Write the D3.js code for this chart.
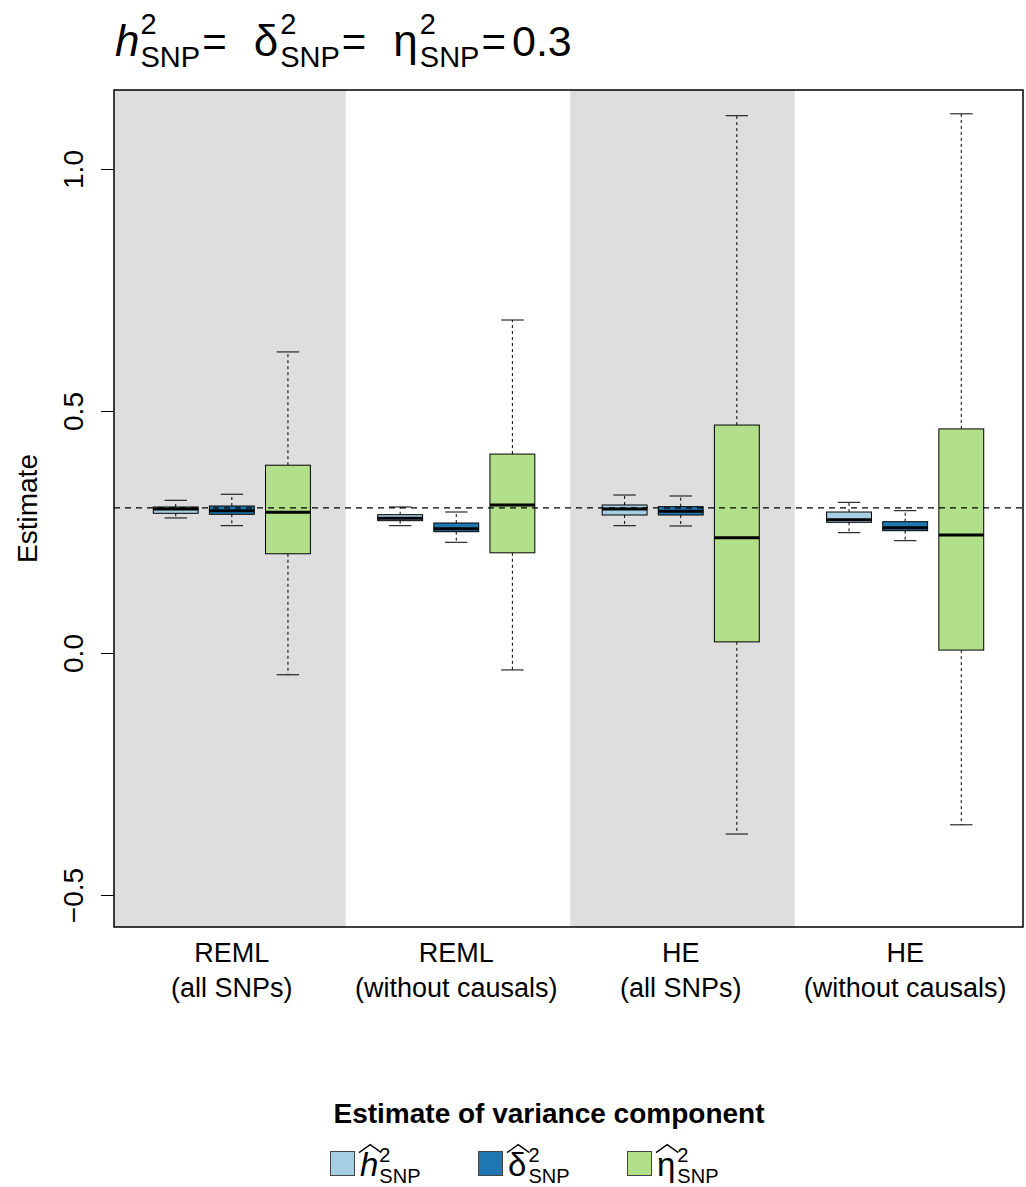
<!DOCTYPE html>
<html>
<head>
<meta charset="utf-8">
<script src="https://cdn.jsdelivr.net/npm/d3@7"></script>
<style>
  body { margin: 0; background: #fff; }
  text { font-family: "Liberation Sans", Arial, Helvetica, sans-serif; fill: #000; white-space: pre; }
</style>
</head>
<body>
<svg id="chart" width="1026" height="1187"></svg>
<script>
'use strict';

// groups on the x axis (two label lines each)
var groupLines = [
  ["REML", "(all SNPs)"],
  ["REML", "(without causals)"],
  ["HE", "(all SNPs)"],
  ["HE", "(without causals)"]
];

// box stats per group: [lower whisker, Q1, median, Q3, upper whisker]
var h2Boxes = [
  [0.279, 0.2886, 0.2975, 0.3017, 0.3155],
  [0.263, 0.2734, 0.2783, 0.2858, 0.3017],
  [0.263, 0.2851, 0.2975, 0.3058, 0.3264],
  [0.2486, 0.270, 0.2754, 0.2913, 0.3113]
];
var delta2Boxes = [
  [0.263, 0.2866, 0.294, 0.3037, 0.328],
  [0.2287, 0.2506, 0.2568, 0.2686, 0.2913],
  [0.2624, 0.2851, 0.2927, 0.3023, 0.3244],
  [0.232, 0.2527, 0.2589, 0.2713, 0.294]
];
var eta2Boxes = [
  [-0.045, 0.205, 0.291, 0.388, 0.622],
  [-0.035, 0.207, 0.306, 0.411, 0.688],
  [-0.374, 0.023, 0.238, 0.471, 1.110],
  [-0.355, 0.006, 0.244, 0.463, 1.114]
];

var trueValue = 0.3;
var yTicks = [-0.5, 0, 0.5, 1.0];
var seriesColors = ["#A6CEE3", "#1F78B4", "#B2DF8A"];
var seriesBases = ["h", "\u03B4", "\u03B7"];
var seriesItalic = [true, false, false];

var allSeries = [h2Boxes, delta2Boxes, eta2Boxes];

var svg = d3.select('#chart');
var plotL = 114, plotR = 1023, plotT = 90, plotB = 927;

// y scale: 0 -> 653, 1 -> 169
var y = d3.scaleLinear().domain([-0.5661, 1.1632]).range([plotB, plotT]);
// x in box units, R style xlim with 4% extension
var x = d3.scaleLinear().domain([-0.1, 16.1]).range([plotL, plotR]);

svg.append('rect').attr('width', 1026).attr('height', 1187).attr('fill', '#fff');

// shaded bands for groups 1 and 3
[0, 2].forEach(function(g) {
  var x0 = g === 0 ? plotL : x(g * 4 + 0.03), x1 = x(g * 4 + 4.03);
  svg.append('rect')
    .attr('x', x0).attr('y', plotT)
    .attr('width', x1 - x0).attr('height', plotB - plotT)
    .attr('fill', '#DEDEDE');
});

// boxes
var boxW = 0.8, stapleW = 0.4;
allSeries.forEach(function(series, s) {
  series.forEach(function(st, g) {
    var pos = g * 4 + s + 1;
    var cx = x(pos);
    var bx0 = x(pos - boxW / 2), bx1 = x(pos + boxW / 2);
    var sx0 = x(pos - stapleW / 2), sx1 = x(pos + stapleW / 2);
    var bg = svg.append('g');

    // whiskers
    bg.append('line').attr('x1', cx).attr('x2', cx)
      .attr('y1', y(st[3])).attr('y2', y(st[4]))
      .attr('stroke', '#000').attr('stroke-width', 1).attr('stroke-dasharray', '3,3');
    bg.append('line').attr('x1', cx).attr('x2', cx)
      .attr('y1', y(st[1])).attr('y2', y(st[0]))
      .attr('stroke', '#000').attr('stroke-width', 1).attr('stroke-dasharray', '3,3');
    // staples
    [st[0], st[4]].forEach(function(v) {
      bg.append('line').attr('x1', sx0).attr('x2', sx1)
        .attr('y1', y(v)).attr('y2', y(v))
        .attr('stroke', '#000').attr('stroke-width', 1);
    });
    // box
    bg.append('rect')
      .attr('x', bx0).attr('y', y(st[3]))
      .attr('width', bx1 - bx0).attr('height', y(st[1]) - y(st[3]))
      .attr('fill', seriesColors[s]).attr('stroke', '#000').attr('stroke-width', 1);
    // median
    bg.append('line').attr('x1', bx0).attr('x2', bx1)
      .attr('y1', y(st[2])).attr('y2', y(st[2]))
      .attr('stroke', '#000').attr('stroke-width', 3);
  });
});

// reference line at the true value
svg.append('line')
  .attr('x1', plotL).attr('x2', plotR)
  .attr('y1', y(trueValue)).attr('y2', y(trueValue))
  .attr('stroke', '#000').attr('stroke-width', 1.3).attr('stroke-dasharray', '6,5');

// frame
svg.append('rect')
  .attr('x', plotL).attr('y', plotT)
  .attr('width', plotR - plotL).attr('height', plotB - plotT)
  .attr('fill', 'none').attr('stroke', '#000').attr('stroke-width', 1.5);

// y axis
var yAxis = d3.axisLeft(y).tickValues(yTicks).tickSize(13)
  .tickFormat(function(d) { return d3.format('.1f')(d).replace('-', '\u2212'); });
var ya = svg.append('g').attr('transform', 'translate(' + plotL + ',0)').call(yAxis);
ya.select('.domain').remove();
ya.selectAll('line').attr('stroke', '#000');
ya.selectAll('text')
  .attr('x', null).attr('dy', null).attr('y', null)
  .attr('transform', 'translate(-31,0) rotate(-90)')
  .attr('text-anchor', 'middle')
  .style('font-size', '28px')
  .style('font-family', '"Liberation Sans", Arial, sans-serif')
  .attr('fill', '#000');

svg.append('text')
  .attr('transform', 'translate(37,' + ((plotT + plotB) / 2) + ') rotate(-90)')
  .attr('text-anchor', 'middle')
  .style('font-size', '28px')
  .text('Estimate');

// x labels
groupLines.forEach(function(lines, g) {
  var cx = x(g * 4 + 2);
  svg.append('text').attr('x', cx).attr('y', 962).attr('text-anchor', 'middle')
    .style('font-size', '27px').text(lines[0]);
  svg.append('text').attr('x', cx).attr('y', 997).attr('text-anchor', 'middle')
    .style('font-size', '27px').text(lines[1]);
});

// plotmath-like: base with stacked superscript and subscript
function scripted(g, x0, base, opts) {
  var b = g.append('text').attr('x', x0).attr('y', opts.y)
    .style('font-size', opts.size + 'px')
    .style('font-style', opts.italic ? 'italic' : 'normal')
    .text(base);
  var bw = b.node().getComputedTextLength();
  var sx = x0 + bw + (opts.italic ? 1 : 2);
  var sup = g.append('text').attr('x', sx).attr('y', opts.y + opts.supDy)
    .style('font-size', opts.small + 'px').text(opts.sup);
  var sub = g.append('text').attr('x', sx).attr('y', opts.y + opts.subDy)
    .style('font-size', opts.small + 'px').text(opts.sub);
  if (opts.hat) {
    var hy = opts.y - opts.size * 0.95;
    g.append('path')
      .attr('d', 'M' + (x0 - 1) + ',' + (hy + 8) + 'L' + (x0 + bw / 2 + 1) + ',' + hy + 'L' + (x0 + bw + 3) + ',' + (hy + 8))
      .attr('fill', 'none').attr('stroke', '#000').attr('stroke-width', 1.3);
  }
  return sx + Math.max(sup.node().getComputedTextLength(), sub.node().getComputedTextLength());
}

// title
var tg = svg.append('g');
var tOpts = function(i) {
  return { y: 56, size: 44, small: 29, supDy: -22, subDy: 11, sup: '2', sub: 'SNP', italic: seriesItalic[i] };
};
var tx = 115;
seriesBases.forEach(function(b, i) {
  tx = scripted(tg, tx, b, tOpts(i));
  var eq = tg.append('text').attr('x', tx + 2).attr('y', 56).style('font-size', '42px').text('=');
  tx += 2 + eq.node().getComputedTextLength() + (i < 2 ? 27 : 6);
});
tg.append('text').attr('x', tx).attr('y', 56).style('font-size', '43px').text('0.3');

// legend
svg.append('text').attr('x', 549).attr('y', 1123).attr('text-anchor', 'middle')
  .style('font-size', '28px').style('font-weight', 'bold')
  .text('Estimate of variance component');

var legendX = [330, 478, 627];
seriesBases.forEach(function(b, i) {
  svg.append('rect').attr('x', legendX[i] + 0.5).attr('y', 1151.5)
    .attr('width', 24).attr('height', 24)
    .attr('fill', seriesColors[i]).attr('stroke', '#444').attr('stroke-width', 1);
  scripted(svg, legendX[i] + 30, b, {
    y: 1176, size: 33, small: 20, supDy: -14, subDy: 7, sup: '2', sub: 'SNP',
    italic: seriesItalic[i], hat: true
  });
});
</script>
</body>
</html>
